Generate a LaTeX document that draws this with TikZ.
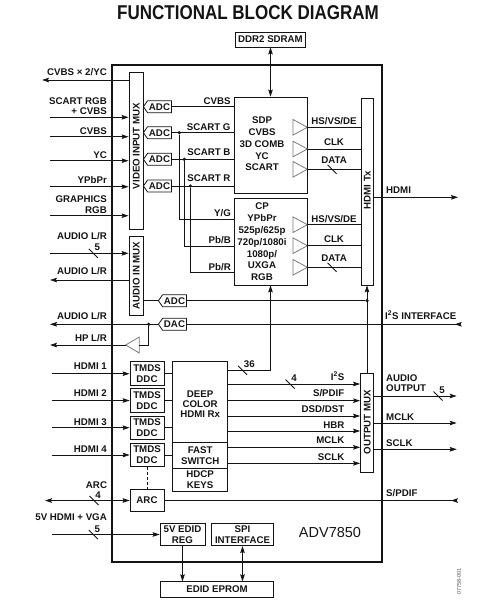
\documentclass[tikz,border=0pt]{standalone}
\usepackage{fontspec}
\setmainfont{Liberation Sans}
\usetikzlibrary{arrows.meta,shapes.symbols,calc,positioning}
\definecolor{ink}{HTML}{141414}
\definecolor{bufline}{HTML}{7A7A7A}
\definecolor{tagtext}{HTML}{555555}
\tikzset{
  % ---- blocks ----------------------------------------------------
  blk/.style      = {draw=ink, line width=.8pt, inner sep=0pt,
                     align=center, text=ink,
                     font=\fontsize{9.7}{10.8}\selectfont\bfseries},
  chipbox/.style  = {draw=ink, line width=2.2pt, inner sep=0pt},
  conv/.style     = {signal, signal to=west, signal pointer angle=110,
                     draw=ink, line width=.8pt, inner sep=.6pt,
                     minimum width=28pt, minimum height=12pt, text=ink,
                     font=\fontsize{9.7}{10.8}\selectfont\bfseries},
  % ---- texts -----------------------------------------------------
  lbl/.style      = {inner sep=0pt, text=ink, text height=7pt,
                     text depth=0pt,
                     font=\fontsize{9.7}{10.8}\selectfont\bfseries},
  boxtxt/.style   = {inner sep=0pt, text=ink, align=center,
                     font=\fontsize{9.7}{11.8}\selectfont\bfseries},
  titletxt/.style = {inner sep=0pt, text=ink,
                     font=\fontsize{20}{22}\selectfont\bfseries},
  parttxt/.style  = {inner sep=0pt, text=ink,
                     font=\fontsize{14.5}{16}\selectfont},
  codetxt/.style  = {inner sep=0pt, text=tagtext,
                     font=\fontsize{5.5}{6}\selectfont},
  % ---- wires -----------------------------------------------------
  sig/.style      = {draw=ink, line width=.8pt},
  arr/.style      = {sig, -{Stealth[length=7pt,width=4.6pt,inset=1.2pt]}},
  dbl/.style      = {sig, {Stealth[length=7pt,width=4.6pt,inset=1.2pt]}-{Stealth[length=7pt,width=4.6pt,inset=1.2pt]}},
  rin/.style      = {sig, -{Stealth[length=7pt,width=4.6pt,inset=1.2pt,reversed]}},
  dashlink/.style = {sig, dashed, dash pattern=on 3pt off 2pt},
  dot/.style      = {circle, fill=ink, inner sep=0pt, minimum size=3.6pt},
  % ---- small parts -----------------------------------------------
  buf/.pic        = {\draw[draw=bufline, line width=.8pt]
                       (-14.4,-7.8) -- (0,0) -- (-14.4,7.8) -- cycle;
                     \coordinate (-o) at (0,0);
                     \coordinate (-i) at (-14.4,0);},
  bufl/.pic       = {\draw[draw=bufline, line width=.8pt]
                       (13.6,-8) -- (0,0) -- (13.6,8) -- cycle;
                     \coordinate (-o) at (0,0);
                     \coordinate (-i) at (13.6,0);},
  bus/.pic        = {\draw[sig] (-4.5,-4.5) -- (4.5,4.5);
                     \node[lbl, anchor=south west] at (1.2,-2.2) {#1};},
}
\begin{document}
\begin{tikzpicture}[x=1pt,y=-1pt]
\useasboundingbox (0,0) rectangle (487,605);
% ---- title, chip, memory ----------------------------------------
\node[titletxt] (ttl) at (248,13) {\scalebox{.85}[1]{FUNCTIONAL BLOCK DIAGRAM}};
\node[chipbox, minimum width=270pt, minimum height=497pt] (chip) at (247,313.5) {};
\node[blk, minimum width=70pt, minimum height=15pt] (ddr) at (270.5,39.5) {DDR2 SDRAM};
\node[parttxt] (part) at (330,532.3) {ADV7850};
\node[codetxt, rotate=90] (code) at (459,581.7) {07758-001};

% ---- video input mux --------------------------------------------
\node[blk, minimum width=14pt, minimum height=157pt] (vmux) at (136,150.5) {};
\node[lbl, rotate=90] at (136,146) {VIDEO INPUT MUX};
\coordinate (cvo) at (42,80);
\draw[arr] (vmux.west |- cvo) -- (cvo);
\node[lbl, anchor=east] at (107,71.7) {CVBS × 2/YC};
\coordinate (vin1) at (50,117.3);
\coordinate (vin2) at (50,136.7);
\coordinate (vin3) at (50,160.7);
\coordinate (vin4) at (50,186.7);
\coordinate (vin5) at (50,215.7);
\draw[arr] (vin1) -- (vin1 -| vmux.west);
\draw[arr] (vin2) -- (vin2 -| vmux.west);
\draw[arr] (vin3) -- (vin3 -| vmux.west);
\draw[arr] (vin4) -- (vin4 -| vmux.west);
\draw[arr] (vin5) -- (vin5 -| vmux.west);
\node[lbl, anchor=east] at (107,101) {SCART RGB};
\node[lbl, anchor=east] at (107,111) {+ CVBS};
\node[lbl, anchor=east] at (107,130.7) {CVBS};
\node[lbl, anchor=east] at (107,155) {YC};
\node[lbl, anchor=east] at (107,180) {YPbPr};
\node[lbl, anchor=east] at (107,199.3) {GRAPHICS};
\node[lbl, anchor=east] at (107,210) {RGB};

% ---- converters and SDP -----------------------------------------
\node[conv] (adc1) at (159.5,106.7) {ADC};
\node[conv] (adc2) at (159.5,132.7) {ADC};
\node[conv] (adc3) at (159.5,159.3) {ADC};
\node[conv] (adc4) at (159.5,186) {ADC};
\draw[sig] (vmux.east |- adc1) -- (adc1.west);
\draw[sig] (vmux.east |- adc2) -- (adc2.west);
\draw[sig] (vmux.east |- adc3) -- (adc3.west);
\draw[sig] (vmux.east |- adc4) -- (adc4.west);
\node[blk, minimum width=73pt, minimum height=96pt] (sdp) at (270.5,145) {};
\node[boxtxt] at (262,144) {SDP\\CVBS\\3D COMB\\YC\\SCART};
\draw[dbl] (ddr.south) -- (sdp.north);
\node[dot] (dg) at (179.3,132.7) {};
\node[dot] (db) at (184.3,159.3) {};
\node[dot] (dr) at (190.3,186) {};
\draw[sig] (adc1.east) -- (adc1 -| sdp.west);
\draw[sig] (adc2.east) -- (adc2 -| sdp.west);
\draw[sig] (adc3.east) -- (adc3 -| sdp.west);
\draw[sig] (adc4.east) -- (adc4 -| sdp.west);
\node[lbl, anchor=east] at (230.7,100.7) {CVBS};
\node[lbl, anchor=east] at (230.7,126.7) {SCART G};
\node[lbl, anchor=east] at (230.7,151.7) {SCART B};
\node[lbl, anchor=east] at (230.7,177.7) {SCART R};

% ---- CP ---------------------------------------------------------
\node[blk, minimum width=73pt, minimum height=87pt] (cp) at (270.5,241.5) {};
\node[boxtxt] at (262,242) {CP\\YPbPr\\525p/625p\\720p/1080i\\1080p/\\UXGA\\RGB};
\draw[sig] (dg) |- (cp.west |- 0,219.3);
\draw[sig] (db) |- (cp.west |- 0,246);
\draw[sig] (dr) |- (cp.west |- 0,272.7);
\node[lbl, anchor=east] at (231,213.3) {Y/G};
\node[lbl, anchor=east] at (231,240) {Pb/B};
\node[lbl, anchor=east] at (231,266.7) {Pb/R};

% ---- HDMI Tx ----------------------------------------------------
\node[blk, minimum width=12pt, minimum height=187pt] (tx) at (367,191.5) {};
\node[lbl, rotate=90] at (367,190) {HDMI Tx};
\pic (s1) at (sdp.east |- 0,127.3) {buf};
\pic (s2) at (sdp.east |- 0,149) {buf};
\pic (s3) at (sdp.east |- 0,169.3) {buf};
\pic (c1) at (cp.east |- 0,224.7) {buf};
\pic (c2) at (cp.east |- 0,245.7) {buf};
\pic (c3) at (cp.east |- 0,267.3) {buf};
\draw[sig] (s1-o) -- (s1-o -| tx.west);
\draw[sig] (s2-o) -- (s2-o -| tx.west);
\draw[sig] (s3-o) -- (s3-o -| tx.west);
\draw[sig] (c1-o) -- (c1-o -| tx.west);
\draw[sig] (c2-o) -- (c2-o -| tx.west);
\draw[sig] (c3-o) -- (c3-o -| tx.west);
\node[lbl] at (334,120.7) {HS/VS/DE};
\node[lbl] at (334,142.3) {CLK};
\node[lbl] at (334,160) {DATA};
\pic at (332,169.3) {bus={}};
\node[lbl] at (334,218.7) {HS/VS/DE};
\node[lbl] at (334,239.3) {CLK};
\node[lbl] at (334,257.7) {DATA};
\pic at (332,267.3) {bus={}};
\coordinate (hdmio) at (458,197.3);
\draw[arr] (tx.east |- hdmio) -- (hdmio);
\node[lbl, anchor=west] at (386,190) {HDMI};

% ---- audio ------------------------------------------------------
\node[blk, minimum width=14pt, minimum height=79pt] (amux) at (136,275.5) {};
\node[lbl, rotate=90] at (amux.center) {AUDIO IN MUX};
\coordinate (ain) at (50,253.3);
\draw[arr] (ain) -- (ain -| amux.west);
\pic at (93.3,253.3) {bus=5};
\node[lbl, anchor=east] at (107,236) {AUDIO L/R};
\coordinate (aout1) at (50,280);
\draw[arr] (amux.west |- aout1) -- (aout1);
\node[lbl, anchor=east] at (107,270.7) {AUDIO L/R};
\node[conv] (aadc) at (174.5,300.7) {ADC};
\node[conv] (dac) at (174.5,324.3) {DAC};
\draw[sig] (amux.east |- aadc) -- (aadc.west);
\node[dot] (dj) at (367,300.7) {};
\draw[sig] (aadc.east) -- (dj);
\node[dot] (dh) at (148.7,324.3) {};
\coordinate (i2s) at (461.7,324.3);
\draw[rin] (dac.east) -- (i2s);
\node[lbl, anchor=west] at (385,315.7) {I\textsuperscript{2}S INTERFACE};
\coordinate (aout2) at (50,324.3);
\draw[arr] (dac.west) -- (aout2);
\node[lbl, anchor=east] at (107,315.7) {AUDIO L/R};
\pic (hp) at (125.7,345) {bufl};
\draw[sig] (dh) |- (hp-i);
\coordinate (hpo) at (50,345);
\draw[arr] (hp-o) -- (hpo);
\node[lbl, anchor=east] at (107,337.7) {HP L/R};

% ---- HDMI receivers ---------------------------------------------
\node[blk, minimum width=34pt, minimum height=24pt] (tmds1) at (147,373.7) {TMDS\\DDC};
\node[blk, minimum width=34pt, minimum height=24pt] (tmds2) at (147,400.5) {TMDS\\DDC};
\node[blk, minimum width=34pt, minimum height=23.4pt] (tmds3) at (147,427.7) {TMDS\\DDC};
\node[blk, minimum width=34pt, minimum height=23.4pt] (tmds4) at (147,455) {TMDS\\DDC};
\coordinate (hin1) at (52,373.7);
\coordinate (hin2) at (52,400.5);
\coordinate (hin3) at (52,427.7);
\coordinate (hin4) at (52,455);
\draw[arr] (hin1) -- (hin1 -| tmds1.west);
\draw[arr] (hin2) -- (hin2 -| tmds2.west);
\draw[arr] (hin3) -- (hin3 -| tmds3.west);
\draw[arr] (hin4) -- (hin4 -| tmds4.west);
\node[lbl, anchor=east] at (107,366) {HDMI 1};
\node[lbl, anchor=east] at (107,393.3) {HDMI 2};
\node[lbl, anchor=east] at (107,421.7) {HDMI 3};
\node[lbl, anchor=east] at (107,449) {HDMI 4};
\node[blk, minimum width=55pt, minimum height=81pt] (dcol) at (200.2,402.2) {};
\node[boxtxt, font=\fontsize{9.7}{10.3}\selectfont\bfseries] at (200.2,404) {DEEP\\COLOR\\HDMI Rx};
\node[blk, minimum width=55pt, minimum height=25.6pt] (fsw) at (200.2,455.5) {FAST\\SWITCH};
\node[blk, minimum width=55pt, minimum height=22.7pt] (hdcp) at (200.2,479.65) {HDCP\\KEYS};
\draw[sig] (tmds1.east) -- (tmds1.east -| dcol.west);
\draw[sig] (tmds2.east) -- (tmds2.east -| dcol.west);
\draw[sig] (tmds3.east) -- (tmds3.east -| dcol.west);
\draw[sig] (tmds4.east) -- (tmds4.east -| fsw.west);
\draw[arr] (dcol.east |- 0,370) -| (cp.south);
\pic at (242.5,370.3) {bus=36};

% ---- output mux -------------------------------------------------
\node[blk, minimum width=13pt, minimum height=99pt] (omux) at (367,422.7) {};
\node[lbl, rotate=90] at (367,422) {OUTPUT MUX};
\draw[arr] (omux.north) -- (tx.south);
\draw[arr] (dcol.east |- 0,384) -- (omux.west |- 0,384);
\draw[arr] (dcol.east |- 0,400.7) -- (omux.west |- 0,400.7);
\draw[arr] (dcol.east |- 0,416) -- (omux.west |- 0,416);
\draw[arr] (dcol.east |- 0,431) -- (omux.west |- 0,431);
\draw[arr] (fsw.east |- 0,447.3) -- (omux.west |- 0,447.3);
\draw[arr] (fsw.east |- 0,463.3) -- (omux.west |- 0,463.3);
\pic at (290,384) {bus=4};
\node[lbl, anchor=east] at (344.5,377) {I\textsuperscript{2}S};
\node[lbl, anchor=east] at (344.5,393.3) {S/PDIF};
\node[lbl, anchor=east] at (344.5,408.7) {DSD/DST};
\node[lbl, anchor=east] at (344.5,424.7) {HBR};
\node[lbl, anchor=east] at (344.5,440.3) {MCLK};
\node[lbl, anchor=east] at (344.5,456.7) {SCLK};
\coordinate (aud) at (456.7,396);
\coordinate (mck) at (456.7,423);
\coordinate (sck) at (456.7,449.3);
\draw[arr] (omux.east |- aud) -- (aud);
\draw[arr] (omux.east |- mck) -- (mck);
\draw[arr] (omux.east |- sck) -- (sck);
\pic at (438,396) {bus=5};
\node[lbl, anchor=west] at (386,378) {AUDIO};
\node[lbl, anchor=west] at (386,388.3) {OUTPUT};
\node[lbl, anchor=west] at (386,416.7) {MCLK};
\node[lbl, anchor=west] at (386,443.3) {SCLK};

% ---- ARC, EDID, SPI ---------------------------------------------
\node[blk, minimum width=34pt, minimum height=21.4pt] (arc) at (147,500.5) {ARC};
\draw[dashlink] (tmds4.south) -- (arc.north);
\coordinate (arcx) at (45,500.5);
\draw[dbl] (arcx) -- (arcx -| arc.west);
\pic at (94,500.5) {bus=4};
\node[lbl] at (96.5,485) {ARC};
\coordinate (spdif) at (458,500.5);
\draw[rin] (arc.east) -- (spdif);
\node[lbl, anchor=west] at (386,493.3) {S/PDIF};
\node[lbl, anchor=east] at (107,517.3) {5V HDMI + VGA};
\node[blk, minimum width=45pt, minimum height=22.4pt] (edid) at (182.5,534.5) {5V EDID\\REG};
\node[blk, minimum width=61.6pt, minimum height=22.4pt] (spi) at (242.5,534.5) {SPI\\INTERFACE};
\coordinate (vin) at (52,534.5);
\draw[arr] (vin) -- (vin -| edid.west);
\pic at (93.3,534.5) {bus=5};
\node[blk, minimum width=112.6pt, minimum height=15.6pt] (eprom) at (217,589.5) {EDID EPROM};
\draw[arr] (edid.south) -- (edid.south |- eprom.north);
\draw[dbl] (spi.south) -- (spi.south |- eprom.north);
\end{tikzpicture}
\end{document}
